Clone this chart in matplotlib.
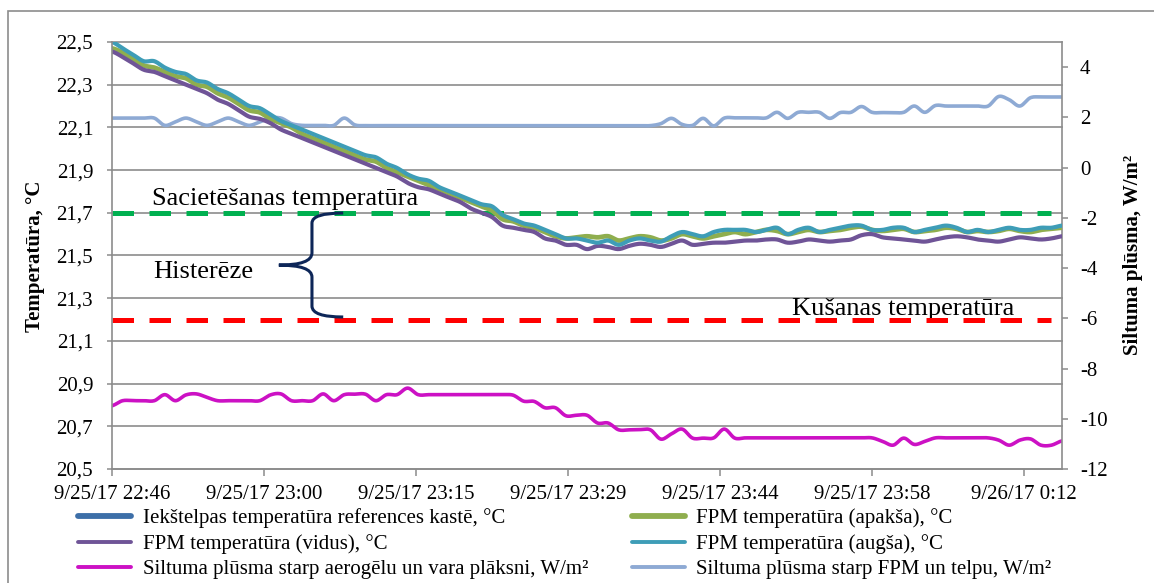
import numpy as np
import matplotlib
matplotlib.use("Agg")
import matplotlib.pyplot as plt
import matplotlib.transforms as mtransforms
from matplotlib.lines import Line2D
from matplotlib.patches import Rectangle, PathPatch
from matplotlib.path import Path

plt.rcParams["font.family"] = ["Liberation Serif", "DejaVu Serif"]
plt.rcParams["axes.unicode_minus"] = False

### Data (one sample per minute, starting 9/25/17 22:46) ###
minutes = np.arange(91)

# FPM temperatūra (augša), °C
t_top = [22.50, 22.47, 22.44, 22.41, 22.41, 22.38, 22.36, 22.35, 22.32, 22.31,
         22.28, 22.26, 22.23, 22.20, 22.19, 22.16, 22.13, 22.11, 22.09, 22.07,
         22.05, 22.03, 22.01, 21.99, 21.97, 21.96, 21.93, 21.91, 21.88, 21.86,
         21.85, 21.82, 21.80, 21.78, 21.76, 21.74, 21.73, 21.69, 21.67, 21.65,
         21.64, 21.62, 21.60, 21.58, 21.58, 21.57, 21.56, 21.57, 21.55, 21.57,
         21.58, 21.57, 21.565, 21.59, 21.61, 21.60, 21.59, 21.61, 21.62, 21.62,
         21.62, 21.61, 21.62, 21.63, 21.60, 21.62, 21.63, 21.61, 21.62, 21.63,
         21.64, 21.64, 21.62, 21.62, 21.63, 21.63, 21.61, 21.62, 21.63, 21.64,
         21.63, 21.61, 21.62, 21.61, 21.62, 21.63, 21.62, 21.62, 21.63, 21.63,
         21.64]

# FPM temperatūra (apakša), °C
t_bottom = [22.47, 22.45, 22.42, 22.39, 22.38, 22.36, 22.34, 22.33, 22.30, 22.29,
            22.26, 22.24, 22.21, 22.18, 22.17, 22.14, 22.12, 22.10, 22.07, 22.05,
            22.03, 22.01, 21.99, 21.97, 21.95, 21.94, 21.91, 21.89, 21.87, 21.85,
            21.83, 21.81, 21.79, 21.77, 21.75, 21.73, 21.71, 21.67, 21.66, 21.64,
            21.63, 21.61, 21.59, 21.58, 21.585, 21.59, 21.585, 21.59, 21.57, 21.58,
            21.59, 21.585, 21.57, 21.58, 21.60, 21.59, 21.58, 21.59, 21.60, 21.61,
            21.60, 21.61, 21.62, 21.615, 21.60, 21.61, 21.62, 21.61, 21.615, 21.62,
            21.63, 21.635, 21.62, 21.615, 21.62, 21.625, 21.61, 21.615, 21.62, 21.63,
            21.625, 21.61, 21.615, 21.61, 21.615, 21.625, 21.615, 21.61, 21.62, 21.625,
            21.63]

# FPM temperatūra (vidus), °C
t_middle = [22.455, 22.43, 22.40, 22.37, 22.36, 22.34, 22.32, 22.30, 22.28, 22.26,
            22.23, 22.21, 22.18, 22.15, 22.14, 22.12, 22.09, 22.07, 22.05, 22.03,
            22.01, 21.99, 21.97, 21.95, 21.93, 21.91, 21.89, 21.87, 21.84, 21.82,
            21.81, 21.79, 21.77, 21.75, 21.72, 21.70, 21.68, 21.64, 21.63, 21.62,
            21.61, 21.58, 21.57, 21.55, 21.55, 21.53, 21.545, 21.54, 21.53, 21.545,
            21.555, 21.55, 21.54, 21.555, 21.57, 21.55, 21.555, 21.56, 21.56, 21.565,
            21.57, 21.57, 21.575, 21.575, 21.56, 21.565, 21.575, 21.57, 21.565, 21.57,
            21.575, 21.595, 21.60, 21.585, 21.58, 21.575, 21.57, 21.565, 21.575, 21.585,
            21.59, 21.585, 21.575, 21.57, 21.565, 21.575, 21.585, 21.58, 21.575, 21.58,
            21.59]

# Siltuma plūsma starp aerogēlu un vara plāksni, W/m2
q_aerogel = [-9.48, -9.28, -9.28, -9.28, -9.28, -9.04, -9.28, -9.05, -9.01, -9.15,
             -9.28, -9.28, -9.28, -9.28, -9.28, -9.05, -9.01, -9.28, -9.28, -9.28,
             -9.01, -9.28, -9.04, -9.02, -9.02, -9.28, -9.04, -9.04, -8.78, -9.04,
             -9.04, -9.04, -9.04, -9.04, -9.04, -9.04, -9.04, -9.04, -9.06, -9.30,
             -9.31, -9.56, -9.56, -9.88, -9.86, -9.86, -10.17, -10.17, -10.44, -10.44,
             -10.43, -10.44, -10.81, -10.60, -10.41, -10.77, -10.77, -10.76, -10.41, -10.77,
             -10.76, -10.76, -10.76, -10.76, -10.76, -10.76, -10.76, -10.76, -10.76, -10.76,
             -10.76, -10.76, -10.76, -10.90, -11.05, -10.77, -11.02, -10.90, -10.76, -10.76,
             -10.76, -10.76, -10.76, -10.76, -10.85, -11.05, -10.85, -10.80, -11.05, -11.05,
             -10.88]

# Siltuma plūsma starp FPM un telpu, W/m2
q_room = [1.97, 1.97, 1.97, 1.97, 1.97, 1.68, 1.82, 1.97, 1.82, 1.68,
          1.82, 1.97, 1.82, 1.68, 1.82, 1.97, 1.97, 1.75, 1.68, 1.68,
          1.68, 1.68, 1.97, 1.70, 1.67, 1.67, 1.67, 1.67, 1.67, 1.67,
          1.67, 1.67, 1.67, 1.67, 1.67, 1.67, 1.67, 1.67, 1.67, 1.67,
          1.67, 1.67, 1.67, 1.67, 1.67, 1.67, 1.67, 1.67, 1.67, 1.67,
          1.67, 1.67, 1.75, 1.96, 1.72, 1.68, 1.96, 1.66, 1.97, 1.98,
          1.98, 1.98, 1.98, 2.20, 1.96, 2.20, 2.20, 2.20, 1.96, 2.19,
          2.20, 2.43, 2.20, 2.19, 2.19, 2.20, 2.45, 2.20, 2.47, 2.45,
          2.45, 2.45, 2.45, 2.45, 2.83, 2.70, 2.45, 2.78, 2.81, 2.81,
          2.81]

saturation_temp = 21.7
melting_temp = 21.2
ref_span = [0, 89]

temp_ticks = [20.5, 20.7, 20.9, 21.1, 21.3, 21.5, 21.7, 21.9, 22.1, 22.3, 22.5]
flux_ticks = [-12, -10, -8, -6, -4, -2, 0, 2, 4]
time_ticks = [0, 14.4, 28.8, 43.2, 57.6, 72.0, 86.4]
time_labels = ["9/25/17 22:46", "9/25/17 23:00", "9/25/17 23:15", "9/25/17 23:29",
               "9/25/17 23:44", "9/25/17 23:58", "9/26/17 0:12"]

c_ref = "#3D6FA8"
c_mid = "#6F5497"
c_bot = "#8FAE4E"
c_top = "#3E9DB7"
c_aero = "#CC11C4"
c_room = "#8EAAD4"
c_grid = "#8C8C8C"


def smooth(x, y, k=10):
    """Catmull-Rom curve through the points (like Excel's smoothed line)."""
    x = np.asarray(x, float)
    y = np.asarray(y, float)
    xp = np.concatenate([[2 * x[0] - x[1]], x, [2 * x[-1] - x[-2]]])
    yp = np.concatenate([[y[0]], y, [y[-1]]])
    s = np.linspace(0, 1, k, endpoint=False)[:, None]

    def seg(p):
        p0, p1, p2, p3 = p[:-3], p[1:-2], p[2:-1], p[3:]
        return 0.5 * (2 * p1 + (-p0 + p2) * s + (2 * p0 - 5 * p1 + 4 * p2 - p3) * s ** 2
                      + (-p0 + 3 * p1 - 3 * p2 + p3) * s ** 3)

    xs = np.append(seg(xp).T.ravel(), x[-1])
    ys = np.append(seg(yp).T.ravel(), y[-1])
    return xs, ys


fig = plt.figure(figsize=(11.54, 5.83), dpi=100)
ax = fig.add_axes([0.0971, 0.1955, 0.8232, 0.7325])
ax2 = ax.twinx()
ax.set_zorder(ax2.get_zorder() + 1)
ax.patch.set_visible(False)

# gridlines of the temperature axis, drawn under the heat-flux lines
trans = mtransforms.blended_transform_factory(ax2.transAxes, ax.transData)
for v in temp_ticks:
    ax2.plot([0, 1], [v, v], transform=trans, color=c_grid, lw=1.2, zorder=0.5, clip_on=False)

# heat flux (right axis)
ax2.plot(*smooth(minutes, q_room), color=c_room, lw=2.6, solid_capstyle="round", zorder=2)
ax2.plot(*smooth(minutes, q_aerogel), color=c_aero, lw=2.6, solid_capstyle="round", zorder=2)

# temperatures (left axis)
ax.plot(ref_span, [saturation_temp] * 2, color="#00B050", lw=3.6, dashes=(4.3, 3.1))
ax.plot(ref_span, [melting_temp] * 2, color="#FF0000", lw=3.6, dashes=(4.3, 3.1))
ax.plot(*smooth(minutes, t_bottom), color=c_bot, lw=3.4, solid_capstyle="round")
ax.plot(*smooth(minutes, t_middle), color=c_mid, lw=3.0, solid_capstyle="round")
ax.plot(*smooth(minutes, t_top), color=c_top, lw=3.0, solid_capstyle="round")

ax.set_xlim(0, 90)
ax.set_ylim(20.5, 22.5)
ax2.set_ylim(-12, 5)

ax.set_xticks(time_ticks)
ax.set_xticklabels(time_labels)
ax.set_yticks(temp_ticks)
ax.set_yticklabels([f"{v:.1f}".replace(".", ",") for v in temp_ticks])
ax2.set_yticks(flux_ticks)

ax.tick_params(axis="y", direction="out", length=3.6, width=1.1, color=c_grid, pad=10, labelsize=15)
ax.tick_params(axis="x", direction="out", length=5, width=1.1, color=c_grid, pad=6.5, labelsize=15)
ax2.tick_params(axis="y", direction="out", length=4.3, width=1.1, color=c_grid, pad=8.6, labelsize=15)

for sp in ["top", "right"]:
    ax.spines[sp].set_visible(False)
for sp in ["left", "bottom"]:
    ax.spines[sp].set_color(c_grid)
    ax.spines[sp].set_linewidth(1.2)
for sp in ["top", "left", "bottom"]:
    ax2.spines[sp].set_visible(False)
ax2.spines["right"].set_color(c_grid)
ax2.spines["right"].set_linewidth(1.2)

fig.text(35 / 1154, 1 - 256 / 583, "Temperatūra, °C", rotation=90, ha="center", va="center",
         fontsize=15, fontweight="bold")
fig.text(1133 / 1154, 1 - 255 / 583, "Siltuma plūsma, W/m²", rotation=90, ha="center", va="center",
         fontsize=15, fontweight="bold")

# annotations
ax.text(3.8, 21.737, "Sacietēšanas temperatūra", fontsize=19, va="baseline", ha="left")
ax.text(3.9, 21.395, "Histerēze", fontsize=19, va="baseline", ha="left")
ax.text(64.4, 21.221, "Kušanas temperatūra", fontsize=19, va="baseline", ha="left", zorder=1)

brace = Path(
    [(21.9, 21.699), (18.94, 21.699), (18.94, 21.652), (18.94, 21.512),
     (18.94, 21.455), (15.8, 21.455), (18.94, 21.455), (18.94, 21.399),
     (18.94, 21.263), (18.94, 21.212), (21.9, 21.212)],
    [Path.MOVETO, Path.CURVE3, Path.CURVE3, Path.LINETO,
     Path.CURVE3, Path.CURVE3, Path.CURVE3, Path.CURVE3,
     Path.LINETO, Path.CURVE3, Path.CURVE3])
ax.add_patch(PathPatch(brace, facecolor="none", edgecolor="#0D2658", lw=2.2, zorder=4))

# legend
handles = [
    Line2D([], [], color=c_ref, lw=4.2, solid_capstyle="round"),
    Line2D([], [], color=c_mid, lw=2.8, solid_capstyle="round"),
    Line2D([], [], color=c_aero, lw=2.8, solid_capstyle="round"),
    Line2D([], [], color=c_bot, lw=4.2, solid_capstyle="round"),
    Line2D([], [], color=c_top, lw=2.8, solid_capstyle="round"),
    Line2D([], [], color=c_room, lw=2.8, solid_capstyle="round"),
]
labels = [
    "Iekštelpas temperatūra references kastē, °C",
    "FPM temperatūra (vidus), °C",
    "Siltuma plūsma starp aerogēlu un vara plāksni, W/m²",
    "FPM temperatūra (apakša), °C",
    "FPM temperatūra (augša), °C",
    "Siltuma plūsma starp FPM un telpu, W/m²",
]
fig.legend(handles, labels, loc="upper left", bbox_to_anchor=(78 / 1154, 1 - 508 / 583),
           ncol=2, frameon=False, fontsize=15, handlelength=2.55, handletextpad=0.55,
           columnspacing=2.1, labelspacing=0.29, borderpad=0, borderaxespad=0)

# outer chart frame
fig.add_artist(Rectangle((8 / 1154, -0.05), 1.1, 1.05 - 11 / 583, transform=fig.transFigure,
                         fill=False, edgecolor=c_grid, lw=1.2))

fig.savefig("out.png", dpi=100)
